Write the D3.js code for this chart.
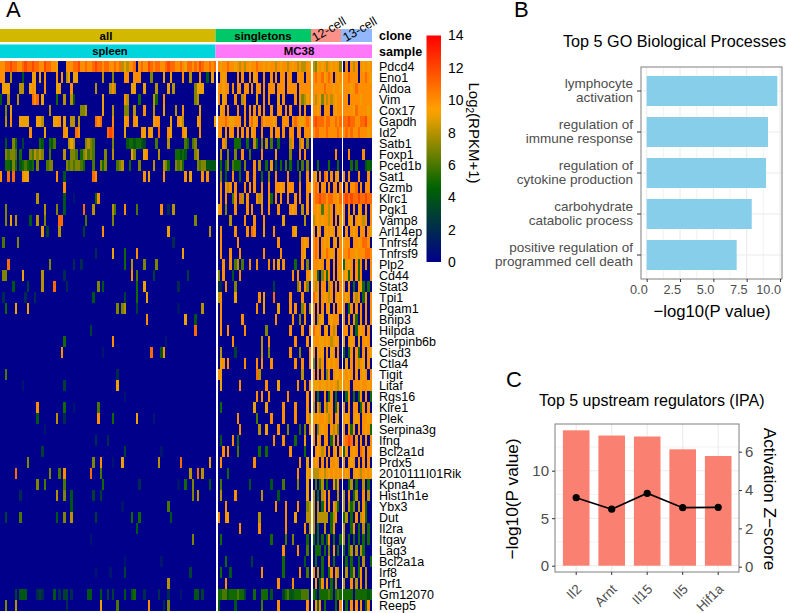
<!doctype html>
<html lang="en">
<head>
<meta charset="UTF-8">
<title>Heatmap and enrichment panels</title>
<script src="https://cdn.jsdelivr.net/npm/d3@7"></script>
<style>
    body { margin: 0; background: #fff; }
    svg { display: block; }
    text { font-family: "Liberation Sans", Arial, sans-serif; }
</style>
</head>
<body>
<script>
var genes = ["Pdcd4","Eno1","Aldoa","Vim","Cox17","Gapdh","Id2","Satb1","Foxp1","Pced1b","Sat1","Gzmb","Klrc1","Pgk1","Vamp8","Arl14ep","Tnfrsf4","Tnfrsf9","Plp2","Cd44","Stat3","Tpi1","Pgam1","Bnip3","Hilpda","Serpinb6b","Cisd3","Ctla4","Tigit","Litaf","Rgs16","Klre1","Plek","Serpina3g","Ifng","Bcl2a1d","Prdx5","2010111I01Rik","Kpna4","Hist1h1e","Ybx3","Dut","Il2ra","Itgav","Lag3","Bcl2a1a","Irf8","Prf1","Gm12070","Reep5"];

// one char per cell, base 15 (0..e). spleen is sparse: "start:values"
var spleen = [
"0:aabbcbbaabcbbcbbaacbbaa9 26:0 27:aaabbcaabaabcbb 42:abbaabab 50:898 53:aab 57:abaacbabbaabcbbaaba9bbabacbaabab",
"0:aa 4:8 9:4 13:99 16:9 18:a 23:a 25:a 27:89 30:99 42:8 46:7 51:aa 55:aaa 62:7 67:9 70:9 75:a 78:8 82:a 85:4 87:9",
"1:999 8:88 12:9 13:a 14:9 18:a 23:9 24:9 29:a 39:8 45:8 46:a 47:8 54:9 55:9 59:9 64:8 69:9 71:8 80:7 81:99 83:9",
"0:4 3:8 7:8 13:b 14:a 15:b 17:9 23:5 26:8 29:8 30:4 42:9 51:a 52:8 57:5 63:8 64:5 67:a 80:7 81:8",
"2:7 4:9 20:8 33:77 35:8 42:9 46:8 51:7 52:7 55:8 59:a 63:8 67:9 72:8 75:a 82:9",
"2:8 4:a 8:999 11:9 15:9 16:9 17:8 22:9 23:9 24:a 26:9 29:8 30:8 32:8 39:b 40:a 41:b 46:a 51:9 52:a 55:a 56:9 63:9 64:a 65:a 70:9 73:a 74:9 75:8 81:9 82:a 88:9",
"12:a 18:9 26:a 27:9 31:b 32:a 44:b 45:c 46:b 51:9 58:a 59:9 61:a 62:9 65:b 69:a 70:9 75:a 76:9 82:a",
"2:4 5:7 6:5 9:3 16:5 17:4 20:5 21:4 22:6 28:8 29:9 30:8 35:7 36:8 37:7 38:6 46:7 52:4 53:5 54:5 55:4 56:5 57:5 58:4 59:3 64:6 69:8 76:6 77:5 79:6 80:7",
"2:7 3:6 4:7 5:7 6:6 8:5 12:7 13:6 14:8 15:7 16:8 17:7 20:6 26:8 29:7 30:7 31:6 33:5 34:7 35:8 36:6 37:7 38:6 43:7 46:8 54:9 55:7 59:9 60:a 65:8 72:5 73:5 74:4 75:5 76:4 80:7 81:8",
"2:5 3:5 4:4 5:7 6:5 8:4 9:5 10:6 11:5 12:4 13:5 15:7 19:6 20:7 21:7 27:7 28:6 29:7 30:6 31:7 32:7 33:6 34:5 38:6 41:7 42:5 43:7 48:6 49:7 50:8 53:5 57:7 63:8 67:8 68:7 69:5 72:7 73:6 74:7 75:5 81:7 82:6 83:7 84:7 85:4 86:4 87:4 88:4",
"0:a 3:b 5:b 9:a 10:9 11:9 23:a 26:4 38:b 39:a 59:a 61:9 67:a 76:a 78:9 83:a 85:a",
"26:a",
"15:8 26:4 30:1 39:5 40:a",
"2:7 18:8 23:7 26:4 34:b 38:8 46:8 47:6 51:a 56:6 66:a 69:2 71:8",
"2:7 4:9 6:8 12:4 15:8 18:7 24:b 25:b 35:6 46:7 80:7",
"17:9 19:3 24:8 34:3 42:a 69:9 86:8",
"1:6 7:7 71:2",
"39:2 46:9 51:5 56:a 75:9",
"3:b 20:7 30:2 33:2 51:5 54:8 59:7 64:7",
"1:77 9:9 17:8 26:2 54:a 56:6 63:3 77:3",
"5:4 11:3 17:8 22:b 27:2 40:7 42:4 56:5 59:9 73:2",
"1:2 10:2 14:2 38:4 51:3 56:5 60:9",
"2:5 6:9 11:9 48:7 50:7 51:8 56:3 73:1 83:8",
"60:a 76:9 80:4",
"37:3 80:b",
"26:5 46:a 68:1",
"25:a 42:1 62:b 66:4 67:a",
"",
"2:6 48:2",
"9:1 26:3 48:9",
"51:1",
"15:a 26:5 30:1 40:6",
"15:4 23:8 26:2 40:a 46:5 56:9 63:1",
"18:1",
"39:2 44:2",
"17:3 51:3 66:1",
"11:7 38:7 41:a 46:1 50:9 65:8 74:b 86:9",
"6:b 20:7 24:6 26:a 37:b 41:6 78:8 81:b 83:8",
"15:7 18:6 26:6 42:5 57:2 73:1 76:5 79:7 86:4",
"8:2 23:8 26:7 29:4 38:3 41:3 79:7 81:8",
"29:4 50:1 69:6",
"2:3 8:6 23:4 26:7 29:8 39:3 54:5 57:5 70:4",
"56:4",
"37:1 79:7",
"",
"51:1 66:1",
"39:1 45:1 51:3 78:3",
"69:8",
"6:3 8:444 15:232 22:4 24:2 26:33 29:2 36:44 41:4 44:3 46:3 51:4 54:45 59:2 65:2 69:2 74:1 80:44 83:3",
"2:7 6:8 27:2 41:9 48:6 61:a 67:2 69:7"
];
var singletons = [
"a9aabaa9a8a8a9aabaa9a9aa8a9aa8a9a8a88a9",
"0a9a0000a0a00a09a00a00a0a0aa0aa00aaa0aa",
"aa9aa0a0aa0aa0a0aa0a0aaa0aaa0aaaa0aaaaa",
"a09a000a008a0000900a0a00090a0000a0a789a",
"09a0a000a00a0a0a0a0a00a00aa0a0a000a0a00",
"aaaba99aaa0a0ab9a0b9aaa9a00aaa0aba99aba",
"aa0a0aa0a0a0a09a00a000a0aa0a00aa0aa0aaa",
"00a8000555005008507080600500008a008a070",
"0800700700a0060000a000009000007000a0a00",
"050570655507000a08005090405060500506070",
"070400a00500a00a00500700a0000a0000700a0",
"0a0a8a0a000a0a0a00a00a00aa9a0aaa00a00aa",
"0a0a006a0b80a000a8a00a50a0a00a00a0a00a0",
"9a07000a0000a0a000a00a000a0000a9a0080a0",
"00000800000a000a000a0000000900000000800",
"0a00000a0000a0ba0009000a0000000a9000000",
"0a000000a0000000000000000a000000000a9a0",
"0a000a000a000000000a000000a00000000a900",
"00a00a0680600a00a0000a0a090a0000500a070",
"70a000400a000000000000000000000a0a000a9",
"220a000700000000000000030000000007a0a70",
"8a000009000000000a09000b000000a0000a000",
"0a00000000000000a0090000090000a0a007a08",
"0a00000000a0000000000000a000000a0070a00",
"0a00a000000a000000007000000000a0000a00a",
"000000a00000000000800a0000000000a0000a0",
"080000030000000000800700000000a0007000a",
"09a0a000000a0000a0a000a000000000a00a00a",
"a900000000000000b8000000000000000008000",
"090000000a0000000000a000090000000a00a0a",
"0000000000000000a0a00a0000000a0000000a0",
"050000000000000900009000000a0000a0000a0",
"00000000a0000000600000a0000a0000a0000a8",
"000000000a000000080090000a000700005070a",
"040000a0500000000000000a000a00005000900",
"00a0a0006000000005005000000000a00000500",
"0a0000000000000a000000000000000000a0090",
"000050000000000000000000000000000a0009a",
"060000000000040000000040000600000700090",
"0800000a0000000000800000040000000000090",
"000a00000000000000000000a000a0000a00078",
"a00a900000000000080000000000a0009000088",
"000000000a0000000a0000000000a0000000a08",
"050000000000000000000050000060070000050",
"000000000000000000000000000a00000a00060",
"000500000000003000000000000500000000400",
"050004000000000000a000000005000000a0060",
"000a000000000000000000000a00000a0000000",
"556645556553000500555040000356445556660",
"4000000400000000006000000a00000000000a0"
];
var cell12 = [
"879a9a8a9a9a7","abaab9aba0a9a","aaaaabaaa9aa9","a8a97a8a8a9aa","aa9a0aaa0a9aa","bcbbbabbaabab","abbaaabaaaaba",
"0000000000000","0000000000a00","0050000500050","a90a0ba0a0a90","aba0aa0a0aa0a","abbcbbabbaa9b","aa9a6aa8a0a9a",
"8a9a9aa8a0a09","a09a0a9a9a0a9","aba0a9a90a90a","aba0a9ba9a0aa","aaa9a0aa0a0aa","9a507a5a0a0a9","a8a0aa08a0a0a",
"ba90a9a8a0a9a","a0a0a0a90a0aa","a08a900a9aaa0","ba9a0a90a8a00","9aa99a9a8a9a0","a09a90a09a0a0","70a7a0a9a9aa0",
"a0a0a07a0a99a","999a99a9a9a89","a0500a05a0500","80a70a7aa05a0","9a9aa9a8a0a90","a07a9aa0a8a70","a09a0aa05a0a0",
"0a9a8a0a0a90a","a9a0a0a0aa9a0","888a98a9a9a9a","060580500a5a0","80508a0a00080","80805a0a0a850","8088888058a00",
"805008005a000","5050505a05005","0555050709050","0500500a05000","a0805005a0a80","0905a0a050800","5405555650565","0a5a05000050a"
];
var cell13 = [
"0a0a8a0a9a9a","aabaaa0aaba9","aaa9abaaaaaa","aa0aaaa9aaaa","aaaa9baaaa9a","bbcbbaabbcaa","ababaabaaa9a",
"000000000000","00a00000a000","000505000454","a0a000a000a0","0a0aab0a0aa0","bcbcbbcbbcbb","a0a0a09a0a0a",
"a0a90a9a8a0a","0a0a9a0aa0a9","9aa0aa9abba0","aabaa9aaabba","5a9a0a5a0a0a","a95a0a5a000a","a0a050a95050",
"a9a0a8a05a0a","a05a0a0a0a0a","a0a0a50a0a0a","aa0a05a9a0a0","90a9a090a9a0","505a0a50a0a9","090a0a8a90a0",
"9a9a0a0a9a0a","a9a0aaa9aa9a","05a0505a0a05","a0a0aa05a0a0","a9a0a9a0aa9a","a0a5a0a0a9a5","abcb0a0a0a0a",
"5a0a9a0ba0aa","a0a9a0a0a0a0","a9a0a9a8a9a9","005805008050","80a05800a080","80857080a500","58050a08a500",
"8005a0508050","805050505050","505808085000","050500508005","0805805a0800","800a080a0800","555505555545","050a0a0a05a0"
];

var cloneNames = ["all", "singletons", "12-cell", "13-cell"];
var cloneSizes = [89, 39, 13, 12];
var sampleNames = ["spleen", "MC38"];

var colorTicks = [0, 2, 4, 6, 8, 10, 12, 14];

var goTerms = [["lymphocyte","activation"],["regulation of","immune response"],["regulation of","cytokine production"],["carbohydrate","catabolic process"],["positive regulation of","programmed cell death"]];
var goValues = [9.8, 9.1, 8.95, 7.88, 6.75];
var goTicks = [0, 2.5, 5, 7.5, 10];
var goMinor = [1.25, 3.75, 6.25, 8.75];

var regulators = ["Il2", "Arnt", "Il15", "Il5", "Hif1a"];
var regPvalue = [14.25, 13.7, 13.6, 12.25, 11.55];
var regZscore = [3.6, 3.0, 3.83, 3.08, 3.1];

var w = 787, h = 613;
var svg = d3.select("body").append("svg").attr("width", w).attr("height", h);

var color = d3.scaleLinear()
    .domain([0, 14 / 3, 28 / 3, 14])
    .range(["#00008b", "#006400", "#ffa500", "#ff0000"])
    .clamp(true);

// ---- A: heatmap
function parseSparse(str, n) {
    var out = d3.range(n).map(function () { return 0; });
    str.split(" ").forEach(function (tok) {
        if (!tok) return;
        var p = tok.split(":");
        for (var i = 0; i < p[1].length; i++) {
            if (+p[0] + i < n) out[+p[0] + i] = parseInt(p[1][i], 15);
        }
    });
    return out;
}
function parseDense(str, n) {
    return d3.range(n).map(function (i) { return i < str.length ? parseInt(str[i], 15) : 0; });
}

var yGene = d3.scaleBand().domain(genes).range([61, 611]);
var panels = [
    {rows: spleen, parse: parseSparse, n: cloneSizes[0], x0: 0, x1: 216},
    {rows: singletons, parse: parseDense, n: cloneSizes[1], x0: 217.5, x1: 311},
    {rows: cell12, parse: parseDense, n: cloneSizes[2], x0: 312.5, x1: 341.5},
    {rows: cell13, parse: parseDense, n: cloneSizes[3], x0: 343, x1: 372}
];

var heat = svg.append("g").attr("shape-rendering", "crispEdges");
panels.forEach(function (p) {
    var xCell = d3.scaleLinear().domain([0, p.n]).range([p.x0, p.x1]);
    genes.forEach(function (g, r) {
        var vals = p.parse(p.rows[r], p.n);
        heat.append("g").selectAll("rect")
            .data(vals)
            .enter().append("rect")
            .attr("x", function (d, i) { return xCell(i); })
            .attr("y", yGene(g))
            .attr("width", xCell(1) - xCell(0) + 0.1)
            .attr("height", yGene.bandwidth() + 0.1)
            .attr("fill", function (d) { return color(d); });
    });
});

var geneAxis = d3.axisRight(yGene).tickSize(0).tickPadding(0);
var geneG = svg.append("g").attr("transform", "translate(379,0)").call(geneAxis);
geneG.select(".domain").remove();
geneG.selectAll("text").attr("font-size", 12.5).attr("fill", "#000")
    .style("font-family", '"Liberation Sans", Arial, sans-serif');

// annotation bars
var cloneBars = [[0, 215.5, "#d2b900"], [215.5, 311, "#00c868"], [311, 341, "#fb9289"], [341, 372, "#92b8fb"]];
svg.append("g").selectAll("rect").data(cloneBars).enter().append("rect")
    .attr("x", function (d) { return d[0]; }).attr("y", 29)
    .attr("width", function (d) { return d[1] - d[0]; }).attr("height", 13)
    .attr("fill", function (d) { return d[2]; });
var sampleBars = [[0, 215.5, "#00d5dd"], [215.5, 372, "#ff78fa"]];
svg.append("g").selectAll("rect").data(sampleBars).enter().append("rect")
    .attr("x", function (d) { return d[0]; }).attr("y", 44.5)
    .attr("width", function (d) { return d[1] - d[0]; }).attr("height", 13.5)
    .attr("fill", function (d) { return d[2]; });

function label(x, y, txt, size, opts) {
    opts = opts || {};
    var t = svg.append("text")
        .attr("x", x).attr("y", y).text(txt)
        .attr("font-size", size)
        .attr("fill", opts.fill || "#000")
        .attr("text-anchor", opts.anchor || "start");
    if (opts.bold) t.attr("font-weight", "bold");
    if (opts.rotate) t.attr("transform", "rotate(" + opts.rotate + "," + x + "," + y + ")");
    return t;
}
label(106, 40, cloneNames[0], 11.5, {anchor: "middle", bold: true});
label(263, 40, cloneNames[1], 11.5, {anchor: "middle", bold: true});
label(315, 42, cloneNames[2], 12.5, {rotate: -30});
label(346, 42, cloneNames[3], 12.5, {rotate: -30});
label(110, 55, sampleNames[0], 11.2, {anchor: "middle", bold: true});
label(299, 55, sampleNames[1], 11.5, {anchor: "middle", bold: true});
label(379, 40, "clone", 12.5, {bold: true});
label(379, 56, "sample", 12.5, {bold: true});

// colour bar
var defs = svg.append("defs");
var grad = defs.append("linearGradient").attr("id", "heatGrad")
    .attr("x1", 0).attr("x2", 0).attr("y1", 1).attr("y2", 0);
d3.range(0, 14.01, 0.5).forEach(function (v) {
    grad.append("stop").attr("offset", v / 14).attr("stop-color", color(v));
});
var yLegend = d3.scaleLinear().domain([0, 14]).range([262, 35.5]);
svg.append("rect").attr("x", 426.5).attr("y", yLegend(14))
    .attr("width", 14.5).attr("height", yLegend(0) - yLegend(14))
    .attr("fill", "url(#heatGrad)");
var legAxis = d3.axisRight(yLegend).tickValues(colorTicks).tickSize(0).tickPadding(0);
var legG = svg.append("g").attr("transform", "translate(448,0)").call(legAxis);
legG.select(".domain").remove();
legG.selectAll("text").attr("font-size", 14).attr("fill", "#000")
    .style("font-family", '"Liberation Sans", Arial, sans-serif');

var logT = svg.append("text").attr("transform", "translate(469,133) rotate(90)")
    .attr("text-anchor", "middle").attr("font-size", 15);
logT.append("tspan").text("Log");
logT.append("tspan").text("2").attr("font-size", 10).attr("dy", 3);
logT.append("tspan").text("(RPKM+1)").attr("dy", -3);

label(6, 17, "A", 22);
label(514, 17, "B", 22);
label(506, 387, "C", 22);

function styleAxis(g, size, fill) {
    g.select(".domain").remove();
    g.selectAll(".tick line").attr("stroke", "#333");
    g.selectAll("text").attr("font-size", size).attr("fill", fill)
        .style("font-family", '"Liberation Sans", Arial, sans-serif');
}

// ---- B: GO bars
var bLeft = 641, bRight = 782, bTop = 67, bBottom = 279;
var xGo = d3.scaleLinear().domain([0, 10]).range([646.7, 780]);
var termKeys = goTerms.map(function (d) { return d.join(" "); });
var yGo = d3.scaleBand().domain(termKeys).range([70.5, 275.5]).paddingInner(0.268).paddingOuter(0.134);

var gridB = svg.append("g").attr("stroke", "#ebebeb");
gridB.selectAll("line.minor").data(goMinor).enter().append("line")
    .attr("x1", function (d) { return xGo(d); }).attr("x2", function (d) { return xGo(d); })
    .attr("y1", bTop).attr("y2", bBottom).attr("stroke-width", 0.6);
gridB.selectAll("line.major").data(goTicks).enter().append("line")
    .attr("x1", function (d) { return xGo(d); }).attr("x2", function (d) { return xGo(d); })
    .attr("y1", bTop).attr("y2", bBottom).attr("stroke-width", 1.1);
gridB.selectAll("line.hor").data(termKeys).enter().append("line")
    .attr("x1", bLeft).attr("x2", bRight)
    .attr("y1", function (d) { return yGo(d) + yGo.bandwidth() / 2; })
    .attr("y2", function (d) { return yGo(d) + yGo.bandwidth() / 2; })
    .attr("stroke-width", 1.1);

svg.append("g").selectAll("rect").data(goValues).enter().append("rect")
    .attr("x", xGo(0))
    .attr("y", function (d, i) { return yGo(termKeys[i]); })
    .attr("width", function (d) { return xGo(d) - xGo(0); })
    .attr("height", yGo.bandwidth())
    .attr("fill", "#87ceeb");

svg.append("rect").attr("x", bLeft).attr("y", bTop)
    .attr("width", bRight - bLeft).attr("height", bBottom - bTop)
    .attr("fill", "none").attr("stroke", "#7f7f7f").attr("stroke-width", 1);

var xGoG = svg.append("g").attr("transform", "translate(0," + bBottom + ")")
    .call(d3.axisBottom(xGo).tickValues(goTicks).tickFormat(d3.format(".1f")).tickSize(3).tickPadding(3));
styleAxis(xGoG, 12.7, "#4d4d4d");
// labels sit right-aligned on their ticks in the reference
xGoG.selectAll("text").attr("text-anchor", "end").attr("x", 0.5);

var yGoG = svg.append("g").attr("transform", "translate(" + bLeft + ",0)")
    .call(d3.axisLeft(yGo).tickSize(4).tickPadding(3));
styleAxis(yGoG, 13.5, "#4d4d4d");
yGoG.selectAll("text").each(function (d, i) {
    var t = d3.select(this).text(null).attr("dy", null);
    t.append("tspan").attr("x", -8).attr("dy", "-0.25em").text(goTerms[i][0]);
    t.append("tspan").attr("x", -8).attr("dy", "1.05em").text(goTerms[i][1]);
});

label(563, 47, "Top 5 GO Biological Processes", 16.2);
label(712, 317, "\u2212log10(P value)", 16.7, {anchor: "middle"});

// ---- C: upstream regulators
var cLeft = 555, cRight = 739, cTop = 424, cBottom = 572;
var xReg = d3.scaleBand().domain(regulators).range([558.45, 735.95]).paddingInner(0.25).paddingOuter(0.125);
var yP = d3.scaleLinear().domain([0, 10]).range([565.7, 470.7]);
var yZ = d3.scaleLinear().domain([0, 6]).range([566.7, 451.7]);
var xMid = function (d) { return xReg(d) + xReg.bandwidth() / 2; };

var gridC = svg.append("g").attr("stroke", "#ebebeb");
gridC.selectAll("line.major").data([0, 5, 10]).enter().append("line")
    .attr("x1", cLeft).attr("x2", cRight)
    .attr("y1", function (d) { return yP(d); }).attr("y2", function (d) { return yP(d); })
    .attr("stroke-width", 1.1);
gridC.selectAll("line.minor").data([2.5, 7.5, 12.5]).enter().append("line")
    .attr("x1", cLeft).attr("x2", cRight)
    .attr("y1", function (d) { return yP(d); }).attr("y2", function (d) { return yP(d); })
    .attr("stroke-width", 0.6);
gridC.selectAll("line.ver").data(regulators).enter().append("line")
    .attr("x1", xMid).attr("x2", xMid)
    .attr("y1", cTop).attr("y2", cBottom).attr("stroke-width", 1.1);

svg.append("g").selectAll("rect").data(regPvalue).enter().append("rect")
    .attr("x", function (d, i) { return xReg(regulators[i]); })
    .attr("y", function (d) { return yP(d); })
    .attr("width", xReg.bandwidth())
    .attr("height", function (d) { return yP(0) - yP(d); })
    .attr("fill", "#fa8072");

var zLine = d3.line()
    .x(function (d, i) { return xMid(regulators[i]); })
    .y(function (d) { return yZ(d); });
svg.append("path").datum(regZscore).attr("d", zLine)
    .attr("fill", "none").attr("stroke", "#000").attr("stroke-width", 1.7);
svg.append("g").selectAll("circle").data(regZscore).enter().append("circle")
    .attr("cx", function (d, i) { return xMid(regulators[i]); })
    .attr("cy", function (d) { return yZ(d); })
    .attr("r", 3.6).attr("fill", "#000");

svg.append("rect").attr("x", cLeft).attr("y", cTop)
    .attr("width", cRight - cLeft).attr("height", cBottom - cTop)
    .attr("fill", "none").attr("stroke", "#7f7f7f").attr("stroke-width", 1);

var xRegG = svg.append("g").attr("transform", "translate(0," + cBottom + ")")
    .call(d3.axisBottom(xReg).tickSize(3));
styleAxis(xRegG, 13.5, "#4d4d4d");
xRegG.selectAll("text").attr("text-anchor", "end").attr("dy", null)
    .attr("transform", "translate(6,18) rotate(-45)").attr("y", 0).attr("x", 0);

var yPG = svg.append("g").attr("transform", "translate(" + cLeft + ",0)")
    .call(d3.axisLeft(yP).tickValues([0, 5, 10]).tickFormat(d3.format("d")).tickSize(3).tickPadding(3));
styleAxis(yPG, 15, "#4d4d4d");
var yZG = svg.append("g").attr("transform", "translate(" + cRight + ",0)")
    .call(d3.axisRight(yZ).tickValues([0, 2, 4, 6]).tickFormat(d3.format("d")).tickSize(3).tickPadding(3));
styleAxis(yZG, 15, "#4d4d4d");

label(539, 406, "Top 5 upstream regulators (IPA)", 16);
svg.append("text").attr("transform", "translate(518,499) rotate(-90)")
    .attr("text-anchor", "middle").attr("font-size", 17.3).text("\u2212log10(P value)");
svg.append("text").attr("transform", "translate(764,499) rotate(90)")
    .attr("text-anchor", "middle").attr("font-size", 17.3).text("Activation Z\u2212score");
</script>
</body>
</html>
